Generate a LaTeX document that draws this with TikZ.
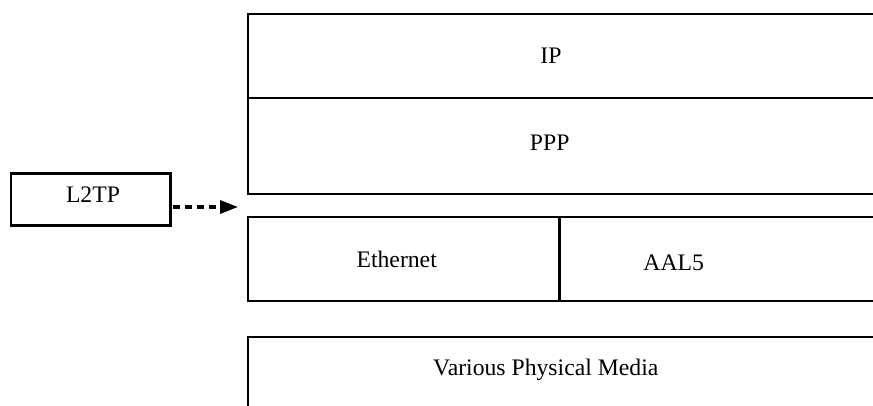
\documentclass[tikz,border=0pt]{standalone}
\usepackage{fontspec}
\setmainfont{Liberation Serif}
\usetikzlibrary{arrows.meta}
\begin{document}
\begin{tikzpicture}[x=1pt,y=-1pt,
  layer/.style={line width=2.4pt,line join=miter},
  divider/.style={line width=2.8pt},
  lbl/.style={anchor=base,inner sep=0pt,font=\fontsize{23.7}{28}\selectfont},
  tunnelbox/.style={draw,line width=2.4pt,minimum width=159.5pt,minimum height=52pt,inner sep=0pt},
  tunnelarrow/.style={line width=3.2pt,dash pattern=on 7pt off 5pt,-{Triangle[length=18pt,width=13pt]}}]
\clip (0,0) rectangle (873,405);
\fill[white] (0,0) rectangle (873,405);

% protocol stack corners
\coordinate (ipTL) at (247.8,13.8);
\coordinate (ipR)  at (880,13.8);
\coordinate (mid)  at (880,98);
\coordinate (midL) at (247.8,98);
\coordinate (pppBL) at (247.8,193.7);
\coordinate (pppR) at (880,193.7);
\coordinate (ethTL) at (247.8,217);
\coordinate (ethTR) at (880,217);
\coordinate (ethBL) at (247.8,301);
\coordinate (ethBR) at (880,301);
\coordinate (splitT) at (559.7,217);
\coordinate (splitB) at (559.7,301);
\coordinate (phyTL) at (247.8,337);
\coordinate (phyTR) at (880,337);
\coordinate (phyBL) at (247.8,412);

% IP / PPP layer
\draw[layer] (ipR) -- (ipTL) -- (pppBL) -- (pppR);
\draw[divider] (midL) -- (mid);
% Ethernet / AAL5 layer
\draw[layer] (ethTR) -- (ethTL) -- (ethBL) -- (ethBR);
\draw[divider] (splitT) -- (splitB);
% physical layer
\draw[layer] (phyTR) -- (phyTL) -- (phyBL);

% labels
\node[lbl] (ip)  at (551,63.3) {IP};
\node[lbl] (ppp) at (549.7,150.7) {PPP};
\node[lbl] (eth) at (396.7,267.3) {Ethernet};
\node[lbl] (aal) at (673.7,270.5) {AAL5};
\node[lbl] (phy) at (545.8,375.7) {Various Physical Media};

% L2TP and its tunnel arrow
\node[tunnelbox] (l2tp) at (90.75,199.5) {};
\node[lbl] (l2tptext) at (93,202.7) {L2TP};
\coordinate (tip) at (238,207);
\draw[tunnelarrow] (l2tp.east |- tip) ++(1.5pt,0) -- (tip);
\end{tikzpicture}
\end{document}
